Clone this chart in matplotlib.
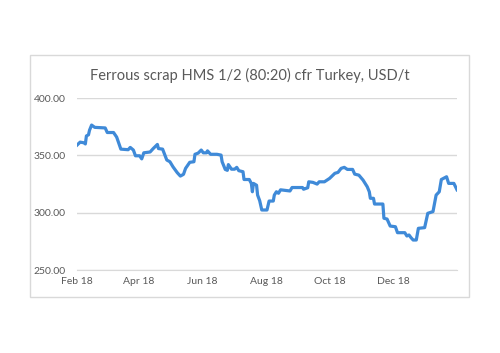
import matplotlib
matplotlib.use("Agg")
import matplotlib.pyplot as plt
import matplotlib.dates as mdates
import numpy as np
import pandas as pd

# ── Data ────────────────────────────────────────────────────────────────
dates = [
    "2018-02-01", "2018-02-04", "2018-02-08", "2018-02-09", "2018-02-10", "2018-02-12",
    "2018-02-13", "2018-02-15", "2018-02-18", "2018-02-28", "2018-03-02", "2018-03-08",
    "2018-03-11", "2018-03-15", "2018-03-22", "2018-03-24", "2018-03-27", "2018-03-29",
    "2018-04-02", "2018-04-04", "2018-04-06", "2018-04-12", "2018-04-15", "2018-04-19",
    "2018-04-20", "2018-04-24", "2018-04-28", "2018-05-01", "2018-05-04", "2018-05-08",
    "2018-05-11", "2018-05-14", "2018-05-16", "2018-05-20", "2018-05-24", "2018-05-25",
    "2018-05-28", "2018-05-31", "2018-06-02", "2018-06-05", "2018-06-06", "2018-06-09",
    "2018-06-15", "2018-06-19", "2018-06-20", "2018-06-23", "2018-06-25", "2018-06-26",
    "2018-06-29", "2018-07-02", "2018-07-04", "2018-07-06", "2018-07-10", "2018-07-11",
    "2018-07-16", "2018-07-18", "2018-07-19", "2018-07-20", "2018-07-23", "2018-07-24",
    "2018-07-26", "2018-07-28", "2018-08-02", "2018-08-04", "2018-08-08", "2018-08-09",
    "2018-08-11", "2018-08-13", "2018-08-15", "2018-08-24", "2018-08-26", "2018-09-05",
    "2018-09-06", "2018-09-10", "2018-09-11", "2018-09-15", "2018-09-19", "2018-09-21",
    "2018-09-26", "2018-10-01", "2018-10-06", "2018-10-09", "2018-10-12", "2018-10-15",
    "2018-10-18", "2018-10-23", "2018-10-25", "2018-10-29", "2018-11-02", "2018-11-06",
    "2018-11-08", "2018-11-09", "2018-11-12", "2018-11-13", "2018-11-21", "2018-11-22",
    "2018-11-25", "2018-11-28", "2018-12-03", "2018-12-05", "2018-12-12", "2018-12-14",
    "2018-12-16", "2018-12-18", "2018-12-20", "2018-12-23", "2018-12-25", "2018-12-31",
    "2019-01-03", "2019-01-08", "2019-01-11", "2019-01-14", "2019-01-16", "2019-01-21",
    "2019-01-23", "2019-01-28", "2019-01-31",
]
prices = [
    359.0, 361.6, 361.0, 360.0, 367.0, 368.0,
    372.0, 376.5, 374.5, 374.0, 370.0, 370.0,
    366.0, 355.5, 355.0, 357.0, 354.7, 349.7,
    349.7, 347.0, 352.3, 353.0, 356.0, 359.6,
    356.0, 355.5, 346.0, 344.5, 340.0, 335.0,
    332.0, 333.5, 338.7, 344.0, 344.5, 351.0,
    352.0, 354.7, 352.3, 352.3, 354.0, 351.0,
    351.0, 350.3, 344.5, 337.8, 337.0, 342.0,
    338.0, 338.0, 339.6, 336.7, 335.8, 329.0,
    329.0, 325.6, 318.3, 325.6, 324.0, 315.4,
    310.5, 302.4, 302.4, 310.2, 310.2, 315.4,
    318.3, 317.0, 320.0, 319.0, 322.0, 322.0,
    320.5, 321.8, 327.0, 326.5, 325.0, 327.0,
    327.0, 330.0, 334.4, 335.2, 338.7, 339.6,
    337.8, 337.8, 333.7, 332.8, 328.5, 322.7,
    318.3, 312.6, 312.6, 307.6, 307.6, 295.2,
    294.5, 288.4, 287.8, 282.6, 282.6, 279.7,
    280.6, 278.2, 276.2, 276.2, 286.4, 287.0,
    299.5, 301.0, 315.4, 318.3, 329.0, 331.4,
    325.6, 325.6, 320.0,
]
y_ticks = [250, 300, 350, 400]
x_tick_dates = ["2018-02-01", "2018-04-01", "2018-06-01", "2018-08-01", "2018-10-01", "2018-12-01"]
title = "Ferrous scrap HMS 1/2 (80:20) cfr Turkey, USD/t"

# ── Styling ─────────────────────────────────────────────────────────────
plt.rcParams["font.family"] = ["Lato", "DejaVu Sans"]
TEXT = "#595959"
GRID = "#d9d9d9"
LINE = "#3f8ad8"

dt = pd.to_datetime(dates)
ticks = pd.to_datetime(x_tick_dates)

fig = plt.figure(figsize=(5.0, 3.53), dpi=100)
fig.patch.set_facecolor("white")

# chart border box
fig.add_artist(plt.Rectangle((0.06, 0.159), 0.878, 0.685, transform=fig.transFigure,
                             fill=False, edgecolor=GRID, lw=1.0))

ax = fig.add_axes([0.154, 0.235, 0.76, 0.487])
ax.plot(dt, prices, color=LINE, lw=2.3, solid_joinstyle="round", zorder=3)

ax.set_xlim(pd.Timestamp("2018-02-01"), pd.Timestamp("2019-01-31"))
ax.set_ylim(250, 400)
ax.set_yticks(y_ticks)
ax.set_yticklabels([f"{v:.2f}" for v in y_ticks])
ax.set_xticks(ticks)
ax.xaxis.set_major_formatter(mdates.DateFormatter("%b %y"))

ax.grid(axis="y", color=GRID, lw=1.0)
ax.set_axisbelow(True)
for s in ["top", "right", "left"]:
    ax.spines[s].set_visible(False)
ax.spines["bottom"].set_color(GRID)
ax.tick_params(length=0, labelsize=7.5, labelcolor=TEXT)
ax.tick_params(axis="y", pad=8)
ax.tick_params(axis="x", pad=5)

fig.text(0.5, 0.787, title, ha="center", va="center", fontsize=10.5, color=TEXT)

fig.savefig("out.png", dpi=100, facecolor="white")
